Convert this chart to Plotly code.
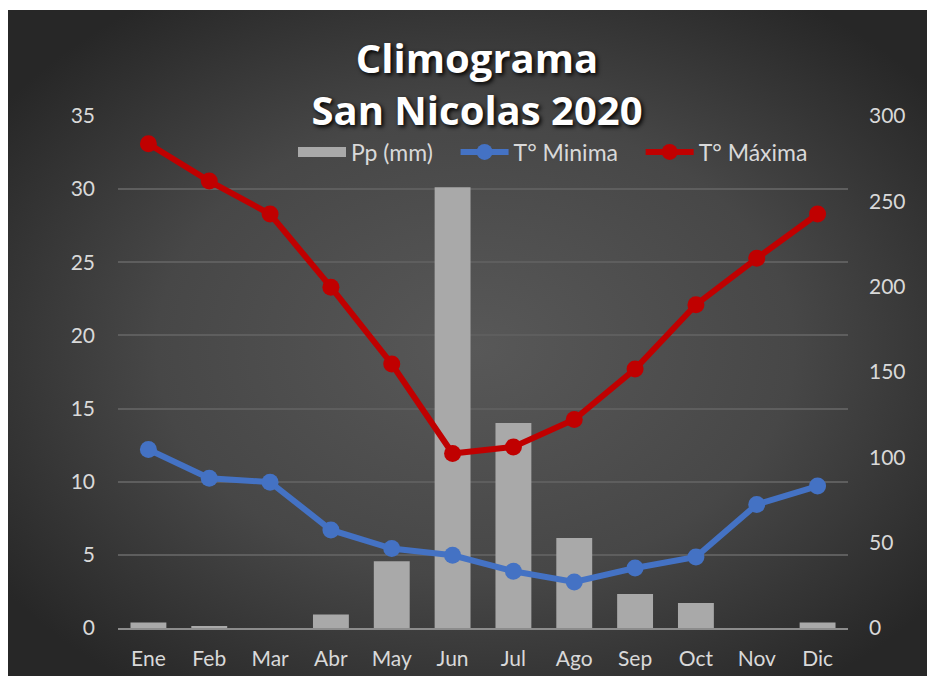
import base64
import plotly.graph_objects as go

meses = ["Ene", "Feb", "Mar", "Abr", "May", "Jun", "Jul", "Ago", "Sep", "Oct", "Nov", "Dic"]
pp_mm = [3.2, 1.0, 0.0, 7.9, 39.1, 258.3, 120.1, 52.8, 19.9, 14.7, 0.0, 3.2]
t_min = [12.2, 10.24, 9.97, 6.7, 5.43, 4.97, 3.88, 3.15, 4.1, 4.86, 8.44, 9.7]
t_max = [33.1, 30.55, 28.3, 23.3, 18.05, 11.93, 12.38, 14.25, 17.7, 22.1, 25.27, 28.3]
temp_ticks = [0, 5, 10, 15, 20, 25, 30, 35]
pp_ticks = [0, 50, 100, 150, 200, 250, 300]

W, H = 935, 676
L, R, T, B = 110, 95, 108, 56
pw, ph = W - L - R, H - T - B

FONT = "Lato"
LABEL = "#d9d9d9"
BAR = "#a9a9a9"
PAD = "\u00a0\u00a0\u00a0"

fig = go.Figure()
fig.add_trace(go.Bar(
    x=meses, y=pp_mm, name="Pp (mm)", yaxis="y", showlegend=False, legendgroup="pp",
    marker=dict(color=BAR, line=dict(width=0)),
))
# legend swatch for the bars (wide rectangle like the original)
fig.add_trace(go.Scatter(
    x=[None], y=[None], name="Pp (mm)" + PAD, yaxis="y", mode="lines", legendgroup="pp",
    line=dict(color=BAR, width=14), hoverinfo="skip",
))
fig.add_trace(go.Scatter(
    x=meses, y=t_min, name="T° Minima" + PAD, yaxis="y2", mode="lines+markers",
    line=dict(color="#4472c4", width=6),
    marker=dict(color="#4472c4", size=17),
))
fig.add_trace(go.Scatter(
    x=meses, y=t_max, name="T° Máxima", yaxis="y2", mode="lines+markers",
    line=dict(color="#c00000", width=6),
    marker=dict(color="#c00000", size=17),
))

# background radial gradient as svg image
bx0, by0 = 0, 2
bw, bh = W - bx0, H - by0
svg = (f'<svg xmlns="http://www.w3.org/2000/svg" width="{bw}" height="{bh}">'
       '<defs><radialGradient id="g" cx="50%" cy="50%" r="62%">'
       '<stop offset="0" stop-color="#585858"/><stop offset="0.55" stop-color="#474747"/>'
       '<stop offset="1" stop-color="#272727"/></radialGradient></defs>'
       f'<rect width="{bw}" height="{bh}" fill="url(#g)"/></svg>')
src = "data:image/svg+xml;base64," + base64.b64encode(svg.encode()).decode()
fig.add_layout_image(dict(
    source=src, xref="paper", yref="paper",
    x=(bx0 - L) / pw, y=1 + (T - by0) / ph,
    sizex=bw / pw, sizey=bh / ph,
    xanchor="left", yanchor="top", sizing="stretch", layer="below",
))

fig.update_layout(
    width=W, height=H, autosize=False,
    margin=dict(l=L, r=R, t=T, b=B, pad=0),
    paper_bgcolor="white", plot_bgcolor="rgba(0,0,0,0)",
    font=dict(family=FONT, color=LABEL, size=20),
    title=dict(
        text="<b>Climograma<br>San Nicolas 2020</b>",
        x=469 / W, xref="container", xanchor="center",
        y=1 - 65 / H, yref="container", yanchor="top",
        font=dict(family="Open Sans", size=40, color="white", shadow="2px 2px 4px #000000"),
        automargin=False,
    ),
    bargap=0.41,
    showlegend=True,
    legend=dict(
        orientation="h", x=(285 - L) / pw, xanchor="left", y=1 - (144 - T) / ph, yanchor="middle",
        bgcolor="rgba(0,0,0,0)", font=dict(size=23, color=LABEL, family=FONT),
        itemwidth=48, traceorder="normal",
    ),
    xaxis=dict(
        type="category", range=[-0.5, 11.5], showgrid=False, showline=True,
        linecolor="#8c8c8c", linewidth=2,
        ticks="", tickfont=dict(size=21, color=LABEL), ticklabelstandoff=11, automargin=False,
    ),
    yaxis=dict(
        side="right", range=[0, 300], tickvals=pp_ticks, showgrid=False, zeroline=False,
        showline=False, ticks="", tickfont=dict(size=21, color=LABEL), ticklabelstandoff=20,
        automargin=False,
    ),
    yaxis2=dict(
        side="left", overlaying="y", range=[0, 35], tickvals=temp_ticks,
        showgrid=True, gridcolor="#5e5e5e", gridwidth=1.5, zeroline=False,
        showline=False, ticks="", tickfont=dict(size=21, color=LABEL), ticklabelstandoff=22,
        automargin=False,
    ),
)

fig.write_html("out.html")
